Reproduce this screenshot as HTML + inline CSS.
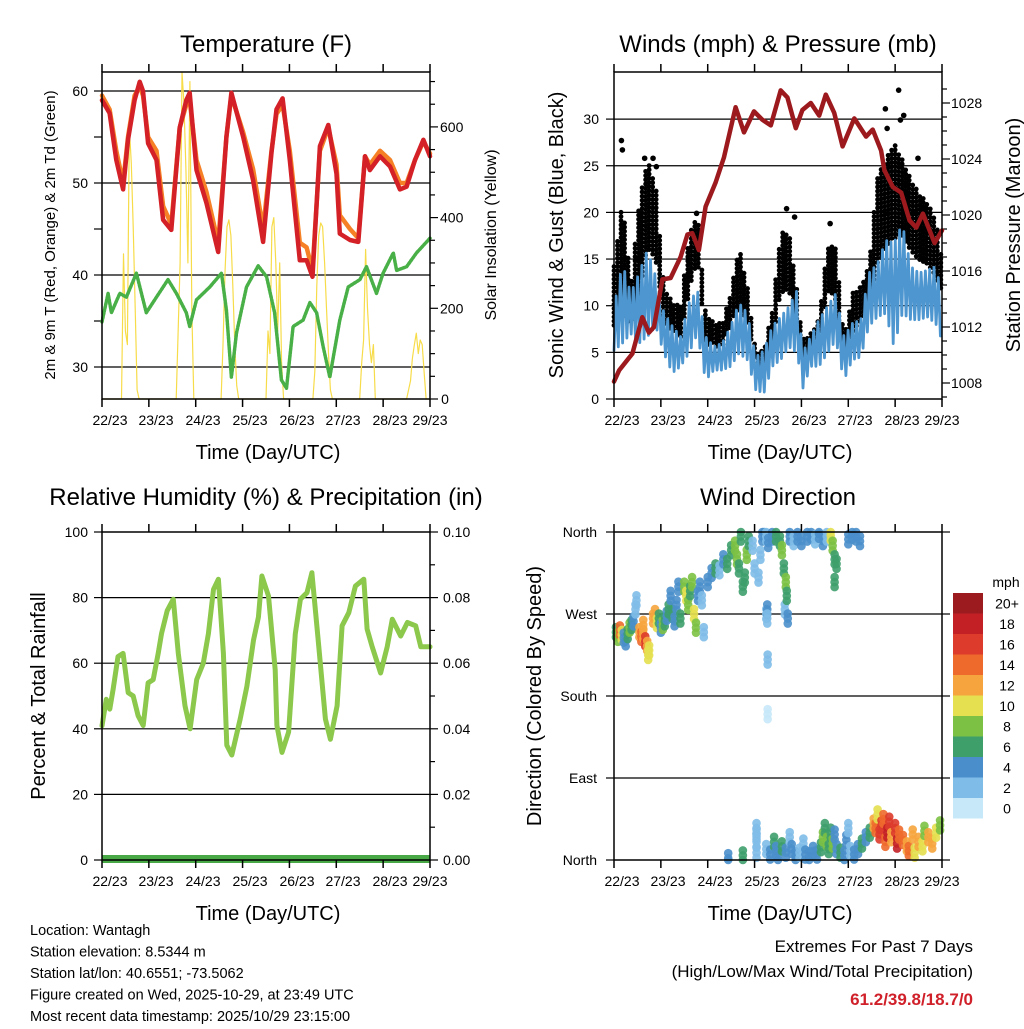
<!DOCTYPE html>
<html><head><meta charset="utf-8"><style>
body{margin:0;background:#fff;}
svg text{font-family:"Liberation Sans",sans-serif;fill:#000;}
</style></head><body>
<svg id="c" width="1024" height="1024" viewBox="0 0 1024 1024" xmlns="http://www.w3.org/2000/svg">
<rect width="1024" height="1024" fill="#fff"/>
</svg>
<script>
// ---------- DATA ----------
const xLabels = ["22/23","23/23","24/23","25/23","26/23","27/23","28/23","29/23"];
const xLabelPos = [110,156,203,250,297,343,390,430];
const tHours = [0,3.9,7.3,10.8,13.3,16.7,19.3,21,23.6,27.9,31.3,35.5,39.8,43.2,44.9,48.4,53.5,59.5,63.7,66.3,72.3,77.4,82.5,86.8,89.4,92.5,96.2,101.3,104.8,107.8,111.6,115.9,120.1,121.8,127,131.3,134.7,137.2,142.4,147.5,152.6,156,160.3,164.6,168];
const temp2m = [59,57.6,52.5,49.3,54.7,59,61,60,54.3,52.5,46,44.9,56,59,59.8,51.4,47.8,42.5,55,59.8,55,50.3,43.6,53.3,58,59.2,52.5,41.6,41.6,39.8,54,56.3,51,44.5,43.8,43.6,52.9,51.4,52.9,51.8,49.3,49.6,52.5,54.7,52.9];
const temp9m = [59.5,58,53.5,50,55,59.5,60.5,59.5,55,53.5,47.5,45.5,56,58.5,59,52.5,49,43.5,55,59.5,55.5,51.5,45,53.5,57.5,58.5,53.5,43.5,43,40.5,53.5,56,52,46.5,45,44,52.9,52,53.5,52.5,50,50,52.5,54.5,53.2];
const tdHours = [0,3.1,4.8,9.1,12.5,17.6,22.7,27.9,33.8,38.1,43.2,44.9,48.4,55.2,61.2,63.7,66.3,68.9,74,80,84.3,88.4,91.9,94.5,97.9,103,106.5,109.9,113.3,116.7,121.8,126.1,132.1,135.5,140.6,144,149.2,150.9,156,161.1,168];
const dewpoint = [34.9,38,35.9,38,37.6,40.2,35.9,37.6,39.5,38,35.9,34.4,37.3,38.7,40.2,36.2,28.9,33.7,38.7,41,39.8,35.9,28.6,27.7,34.4,35.1,37,35.9,32.2,28.9,35.1,38.7,39.5,40.9,38,40.2,42.4,40.5,40.9,42.4,44];
const solarHours = [0,10,11,12,13,14,15,16,17,18,19,20,21,22,38,40,41,42,43,44,45,46,47,61,62,63,64,65,66,67,68,69,70,84,85,86,87,88,89,90,91,92,93,108,109,110,111,112,113,114,115,116,117,118,132,133,134,135,136,137,138,139,140,156,158,159,160,161,162,163,164,165,166,168];
const solar = [0,0,320,150,120,600,520,380,200,20,0,0,0,0,0,300,721,650,500,300,700,200,0,0,120,280,380,395,360,250,120,30,0,0,150,100,380,400,300,150,300,80,0,0,60,250,360,388,380,300,200,100,20,0,0,80,130,330,200,120,80,120,0,0,40,90,120,145,100,130,120,60,0,0];
const pHours = [0,2.6,9.4,14.5,17.9,20.5,24.8,29,34.1,37.6,40.1,43.5,46.9,52,56.3,62.3,66.6,71.7,76,80.3,85.4,88.8,93.1,96.5,100.8,105.1,108.5,112.8,117.1,123.1,129.1,132.5,136.8,138.5,142.8,147.1,151.4,154.8,158.2,164.2,168];
const pressure = [1008.1,1008.9,1010.1,1012.7,1011.6,1012,1015.4,1015.5,1017,1018.6,1018.7,1017.5,1020.6,1022.3,1024.1,1027.7,1025.9,1027.4,1026.8,1026.4,1028.9,1028.4,1026.2,1027.5,1028,1027.1,1028.6,1027.3,1024.9,1026.9,1025.6,1026.1,1024.6,1023.2,1022,1021.6,1019.6,1019.1,1020.1,1018,1018.9];
const wHours = [0,4.4,8.6,12.9,17.1,21.4,25.6,29.9,34.1,38.4,42.7,46.9,51.2,55.5,59.8,64,68.3,72.6,76.8,81.1,85.4,89.6,93.9,96.5,100.8,105,109.3,113.6,117.8,122.1,126.4,130.6,134.9,139.2,143.4,147.7,152,156.2,160.5,164.8,168];
const sonicLo = [5.2,6,7,6,6.7,7.8,4.9,2.8,3.5,4.9,7,2,3.1,3.1,3.5,4.9,4.2,1,0.6,3.5,4.2,5.6,4.9,1,3.5,3.5,4.9,6.3,2,4.2,4.5,7.8,8.8,9.2,5.6,9.2,8.5,8.5,8.8,8.1,6.3];
const sonicHi = [9.9,14.5,11.3,13.5,16,13.1,9.2,7.8,6.7,10.3,11.7,6.7,5.6,6,7.8,10.3,9.2,4.5,5.2,7.8,8.8,9.9,11.7,4.9,6.7,8.5,9.9,11.3,6.7,8.1,8.5,13.5,14.5,17,16.7,18.8,14.2,13.5,13.8,14.2,11.3];
const gustLo = [7.8,9,7.8,11.3,16.3,14.9,8.1,7,6.3,11.3,14.9,6,5.6,5.6,7.8,9.9,8.1,3.5,3.1,6.3,11.3,11.3,7,4.2,4.9,5.6,11.3,10.6,4.9,7,8.1,9.9,14.2,16.3,17,17.4,15.6,14.9,14.2,13.1,11.3];
const gustHi = [14.2,21.3,12,21,25.6,22.8,12,10.3,9.9,17.4,19.9,9.2,8.1,8.1,11.3,16.3,12,4.9,5.2,9.5,17.8,17.8,11.3,6.3,7,8.5,16.3,16.3,6.3,11.3,12,14.2,23.8,25.6,27.4,25.6,23.5,22,21,19.2,14.9];
const gustOutHours = [3.8,4.3,15.7,20,21.7,42.3,88.4,92.5,110.7,139,145.8,146.7,148.4,139.9,155.7];
const gustOutVals = [27.7,26.7,25.8,25.8,24.9,19.9,20.4,19.5,18.8,31.1,33.1,29.9,30.4,29,25.8];
const rhHours = [0,2.2,4,5.7,8.2,10.8,13.4,16,18.5,21.1,23.6,26.2,28.8,30.5,33.4,36.5,39.1,42.5,45.1,48.5,51.9,54.5,57.1,59.6,62.2,63.9,66.5,70.8,74.2,77.6,80.1,81.9,85.3,88.7,89.6,92.2,95.6,99,101.6,105,107.5,110.9,114.4,117,120.4,123,126.4,129.8,134.1,135.8,138.4,142.7,146.1,148.7,153,156.4,160.7,163.3,168];
const rh = [40.9,49,46,52,62,63,51,50,44,41,54,55,63,69,76,79.5,63,47,40,55,60,69,82.5,85.6,63,35,32,43,53,67,74,86.6,80.5,58,41,32.8,39,69,79.5,81.5,87.6,66,43,36.8,47,71.4,75.4,83.5,85.6,70.4,65,57,65,73.4,68.3,72.4,71.4,65,65,73.4];
// Wind direction: hour / direction(deg) / speed(mph), in aligned chunks
const dirHoursA = [1,2,3,4,5,6,7,8,9,10,11,11.5,13,14,15,15,16,17,17.5,18,20,21,22,23,24,25,26];
const dirDegA   = [250,245,252,247,244,240,248,255,258,262,275,285,250,245,248,258,240,235,225,230,265,270,260,265,255,258,262];
const dirSpeedA = [7,8,14,10,5,4,7,9,6,4,3,3,12,14,13,12,16,12,10,11,12,12,10,6,5,8,6];
const dirHoursB = [27,28,29,30,31,32,33,34,36,37,38,39,40,41,42,43,44,45,46,48,50,52,54,56,58];
const dirDegB   = [268,275,290,270,262,280,300,265,300,290,280,295,305,270,255,290,300,285,250,305,315,320,318,330,325];
const dirSpeedB = [5,6,4,6,5,4,4,6,8,10,9,7,8,10,8,4,4,3,2,4,4,6,3,4,6];
const dirHoursC = [60,62,63,64,65,66,67,68,69,71,72,74,75,76,77,78,78,79,78.5,78.5,78.7,78.7,81,83,85,86,87,87.5,88,88.5,89,90,92,94,96];
const dirDegC   = [340,345,330,320,355,300,310,335,350,345,320,310,335,355,358,355,270,348,275,265,220,160,355,355,350,340,320,275,305,290,265,355,350,355,350];
const dirSpeedC = [7,8,9,6,7,6,7,8,7,2,2,3,3,4,4,3,3,4,4,3,3,1,5,7,6,8,6,3,8,6,4,4,3,4,4];
const dirHoursD = [99,101,103,105,107,109,111,112,113,113,114,120,122,124,126];
const dirDegD   = [355,357,352,358,350,355,356,345,330,305,325,352,357,355,350];
const dirSpeedD = [4,4,3,4,4,2,10,8,7,6,6,4,4,5,4];
const dirHoursE = [58.5,66,73,73,73,73,78,80,82,83,84,86,88,90,91,93,95,97,98];
const dirDegE   = [2,5,35,28,20,8,12,6,20,10,4,15,8,25,12,4,8,18,6];
const dirSpeedE = [4,6,2,2,2,2,2,4,6,4,5,7,4,3,4,4,3,3,4];
const dirHoursF = [100,102,104,106,107,108,109,110,111,112,113,114,116,118,119,120,121,123,125,127,129,131];
const dirDegF   = [4,10,6,14,25,35,20,12,30,18,28,12,8,5,22,35,10,6,12,18,25,30];
const dirSpeedF = [4,4,4,6,8,6,9,7,7,8,4,4,6,4,4,2,3,5,5,6,5,7];
const dirHoursG = [133,134,135,136,137,138,139,140,141,142,144,145,146,148,150,151,153,154,156,158,159,161,163,165,167];
const dirDegG   = [40,35,50,28,38,45,20,30,42,25,35,18,28,22,15,10,28,8,20,15,32,25,18,30,38];
const dirSpeedG = [12,14,10,17,16,15,14,18,16,12,16,18,15,14,12,15,12,11,13,10,9,12,13,10,9];
const cbLabels = ["20+","18","16","14","12","10","8","6","4","2","0"];
const cbColors = ["#9b1b1e","#c32026","#dd3b2b","#ee6a2c","#f6a53e","#e4e050","#7cc144","#3e9f6b","#4a8fcb","#7fbde8","#c6e8f8"];

// ---------- HELPERS ----------
const svg = document.getElementById('c');
const NS = 'http://www.w3.org/2000/svg';
function mk(tag, attrs, parent){const e=document.createElementNS(NS,tag);for(const k in attrs)e.setAttribute(k,attrs[k]);(parent||svg).appendChild(e);return e;}
function txt(s,x,y,size,anchor,parent,rot){const e=mk('text',{x:x,y:y,'font-size':size,'text-anchor':anchor||'middle'},parent);if(rot)e.setAttribute('transform','rotate('+rot+' '+x+' '+y+')');e.textContent=s;return e;}
function panelFrame(name){
  const g=mk('g',{});
  
  
  return g;
}
function xAxis(g,x0,x1,y0,y1){
  const ax=mk('g',{},g);
  
  
  for(let i=0;i<8;i++){
    const x=x0+(x1-x0)*i/7;
    mk('line',{x1:x,x2:x,y1:y1,y2:y1+8,stroke:'#000','stroke-width':1.5},ax);
    mk('line',{x1:x,x2:x,y1:y0,y2:y0-8,stroke:'#000','stroke-width':1.5},ax);
    const dx=xLabelPos[i]-102;
    const t=txt(xLabels[i],x0+dx,y1+26,14,'middle',ax);
    
    
  }
  const t=txt('Time (Day/UTC)',(x0+x1)/2+2,y1+60,20,'middle',ax);
  
  
}
function box(g,x0,y0,x1,y1){mk('rect',{x:x0,y:y0,width:x1-x0,height:y1-y0,fill:'none',stroke:'#000','stroke-width':1.5},g);}
function poly(g,pts,attrs){return mk('polyline',Object.assign({points:pts.map(p=>p[0].toFixed(1)+','+p[1].toFixed(1)).join(' '),fill:'none','stroke-linejoin':'round','stroke-linecap':'round'},attrs),g);}

// ---------- PANEL 1: TEMPERATURE ----------
(function(){
  const X0=102,X1=430,Y0=72,Y1=399;
  const g=panelFrame('temperature-panel');
  const xs=h=>X0+(X1-X0)*h/168;
  const ys=v=>91+(60-v)*9.2;
  const yr=v=>Y1-v*0.4535;
  const tt=txt('Temperature (F)',266,52,24,'middle',g);
  
  
  [60,50,40,30].forEach(v=>{mk('line',{x1:X0,x2:X1,y1:ys(v),y2:ys(v),stroke:'#000','stroke-width':1.2},g);});
  for(let v=30;v<=60;v+=5){mk('line',{x1:X0-8,x2:X0,y1:ys(v),y2:ys(v),stroke:'#000','stroke-width':1.2},g);}
  [60,50,40,30].forEach(v=>{const t=txt(String(v),88,ys(v)+5,14,'end',g);});
  for(let v=0;v<=700;v+=50){mk('line',{x1:X1,x2:X1+(v%200==0?8:5),y1:yr(v),y2:yr(v),stroke:'#000','stroke-width':1.2},g);}
  [600,400,200,0].forEach(v=>{const t=txt(String(v),v?440:445,yr(v)+5,14,v?'start':'middle',g);});
  const sl=poly(g,solarHours.map((h,i)=>[xs(h),yr(solar[i])]),{stroke:'#f7dc4a','stroke-width':1.2});
  
  
  const dl=poly(g,tdHours.map((h,i)=>[xs(h),ys(dewpoint[i])]),{stroke:'#48b046','stroke-width':3.5,'stroke-dasharray':'2 1.5'});
  
  
  const ol=poly(g,tHours.map((h,i)=>[xs(h),ys(temp9m[i])]),{stroke:'#f58025','stroke-width':4.5});
  
  
  const rl=poly(g,tHours.map((h,i)=>[xs(h),ys(temp2m[i])]),{stroke:'#d42027','stroke-width':4.5});
  
  
  box(g,X0,Y0,X1,Y1);
  xAxis(g,X0,X1,Y0,Y1);
  const l=txt('2m & 9m T (Red, Orange) & 2m Td (Green)',55,235,15,'middle',g,-90);
  
  
  const r=txt('Solar Insolation (Yellow)',496,235,16,'middle',g,-90);
  
  
})();

// ---------- PANEL 2: WINDS & PRESSURE ----------
(function(){
  const X0=614,X1=942,Y0=72,Y1=399;
  const g=panelFrame('winds-panel');
  const xs=h=>X0+(X1-X0)*h/168;
  const ys=v=>Y1-v*9.33;
  const yp=p=>383-(p-1008)*14;
  const tt=txt('Winds (mph) & Pressure (mb)',778,52,24,'middle',g);
  
  
  [5,10,15,20,25,30].forEach(v=>{mk('line',{x1:X0,x2:X1,y1:ys(v),y2:ys(v),stroke:'#000','stroke-width':1.2},g);});
  for(let v=0;v<=30;v+=5){mk('line',{x1:X0-8,x2:X0,y1:ys(v),y2:ys(v),stroke:'#000','stroke-width':1.2},g);const t=txt(String(v),599,ys(v)+5,14,'end',g);}
  for(let p=1007;p<=1029;p++){mk('line',{x1:X1,x2:X1+(p%4==0?8:5),y1:yp(p),y2:yp(p),stroke:'#000','stroke-width':1.2},g);}
  [1028,1024,1020,1016,1012,1008].forEach(p=>{const t=txt(String(p),951,yp(p)+5,14,'start',g);});
  const interp=(arr,h)=>{for(let i=0;i<wHours.length-1;i++){if(h<=wHours[i+1]){const f=(h-wHours[i])/(wHours[i+1]-wHours[i]);return arr[i]+f*(arr[i+1]-arr[i]);}}return arr[arr.length-1];};
  const gg=mk('g',{fill:'#000'},g);
  
  
  let k=0;
  for(let h=0;h<=168;h+=1.8){
    const lo=ys(interp(gustLo,h)),hi=ys(interp(gustHi,h));
    const off=(k%2)*2;k++;
    for(let y=hi+off;y<=lo;y+=4.2){mk('circle',{cx:xs(h),cy:y,r:2.4},gg);}
  }
  gustOutHours.forEach((h,i)=>{mk('circle',{cx:xs(h),cy:ys(gustOutVals[i]),r:2.8},gg);});
  const zz=[];let s=0;
  for(let h=0;h<=168;h+=1.1){zz.push([xs(h),ys(s%2?interp(sonicHi,h):interp(sonicLo,h))]);s++;}
  const b=poly(g,zz,{stroke:'#4e96d0','stroke-width':2.8});
  
  
  const pl=poly(g,pHours.map((h,i)=>[xs(h),yp(pressure[i])]),{stroke:'#9c1a1d','stroke-width':4.5});
  
  
  box(g,X0,Y0,X1,Y1);
  xAxis(g,X0,X1,Y0,Y1);
  const l=txt('Sonic Wind & Gust (Blue, Black)',563,235,20,'middle',g,-90);
  
  
  const r=txt('Station Pressure (Maroon)',1020,235,20,'middle',g,-90);
  
  
})();

// ---------- PANEL 3: RH ----------
(function(){
  const X0=102,X1=430,Y0=532,Y1=860;
  const g=panelFrame('humidity-panel');
  const xs=h=>X0+(X1-X0)*h/168;
  const ys=v=>Y1-v*3.28;
  const tt=txt('Relative Humidity (%) & Precipitation (in)',266,505,24,'middle',g);
  
  
  [20,40,60,80].forEach(v=>{mk('line',{x1:X0,x2:X1,y1:ys(v),y2:ys(v),stroke:'#000','stroke-width':1.2},g);});
  for(let v=0;v<=100;v+=20){mk('line',{x1:X0-8,x2:X0,y1:ys(v),y2:ys(v),stroke:'#000','stroke-width':1.2},g);const t=txt(String(v),88,ys(v)+5,14,'end',g);}
  for(let v=0;v<=100;v+=10){mk('line',{x1:X1,x2:X1+(v%20==0?8:5),y1:ys(v),y2:ys(v),stroke:'#000','stroke-width':1.2},g);}
  ['0.00','0.02','0.04','0.06','0.08','0.10'].forEach((s,i)=>{const t=txt(s,443,ys(i*20)+5,14,'start',g);});
  const rl=poly(g,rhHours.map((h,i)=>[xs(h),ys(rh[i])]),{stroke:'#8cc84b','stroke-width':5});
  
  
  const pr=mk('line',{x1:X0,x2:X1,y1:Y1-1,y2:Y1-1,stroke:'#48a846','stroke-width':8},g);
  
  
  box(g,X0,Y0,X1,Y1);
  xAxis(g,X0,X1,Y0,Y1);
  const l=txt('Percent & Total Rainfall',45,696,20,'middle',g,-90);
  
  
})();

// ---------- PANEL 4: WIND DIRECTION ----------
(function(){
  const X0=614,X1=942,Y0=532,Y1=860;
  const g=panelFrame('wind-direction-panel');
  const xs=h=>X0+(X1-X0)*h/168;
  const ys=d=>Y1-d*(Y1-Y0)/360;
  const tt=txt('Wind Direction',778,505,24,'middle',g);
  
  
  [90,180,270].forEach(d=>{mk('line',{x1:X0,x2:X1,y1:ys(d),y2:ys(d),stroke:'#000','stroke-width':1.2},g);});
  ['North','East','South','West','North'].forEach((s,i)=>{mk('line',{x1:X0-8,x2:X0,y1:ys(i*90),y2:ys(i*90),stroke:'#000','stroke-width':1.2},g);mk('line',{x1:X1,x2:X1+8,y1:ys(i*90),y2:ys(i*90),stroke:'#000','stroke-width':1.2},g);const t=txt(s,597,ys(i*90)+5,14,'end',g);});
  const pg=mk('g',{},g);
  
  
  const H=[].concat(dirHoursA,dirHoursB,dirHoursC,dirHoursD,dirHoursE,dirHoursF,dirHoursG);
  const D=[].concat(dirDegA,dirDegB,dirDegC,dirDegD,dirDegE,dirDegF,dirDegG);
  const S=[].concat(dirSpeedA,dirSpeedB,dirSpeedC,dirSpeedD,dirSpeedE,dirSpeedF,dirSpeedG);
  H.forEach((h,i)=>{
    const bin=Math.max(0,Math.min(10,Math.floor(S[i]/2)));
    const col=cbColors[10-bin];
    const x=xs(h),y=ys(D[i]);
    [-5,0,5].forEach(o=>{
      const yy=Math.min(Y1,Math.max(Y0,y+o));
      mk('circle',{cx:x,cy:yy,r:4.3,fill:col,'fill-opacity':0.9},pg);
    });
  });
  box(g,X0,Y0,X1,Y1);
  xAxis(g,X0,X1,Y0,Y1);
  const l=txt('Direction (Colored By Speed)',541,696,20,'middle',g,-90);
  
  
  const cb=mk('g',{},g);
  
  
  const bh=20.5;
  cbColors.forEach((c,i)=>{mk('rect',{x:953,y:593+i*bh,width:30,height:bh,fill:c},cb);const t=txt(cbLabels[i],1007,593+i*bh+bh/2+5,14,'middle',cb);});
  const m=txt('mph',1006,587,14,'middle',cb);
  
  
})();

// ---------- FOOTER ----------
(function(){
  const f=mk('g',{});
  
  
  const lines=['Location: Wantagh','Station elevation: 8.5344 m','Station lat/lon: 40.6551; -73.5062','Figure created on Wed, 2025-10-29, at 23:49 UTC','Most recent data timestamp: 2025/10/29 23:15:00'];
  lines.forEach((s,i)=>{txt(s,30,935+i*21.5,14.5,'start',f);});
  const e=mk('g',{});
  
  
  txt('Extremes For Past 7 Days',973,952,17,'end',e);
  txt('(High/Low/Max Wind/Total Precipitation)',973,977,17,'end',e);
  const v=txt('61.2/39.8/18.7/0',973,1005,17,'end',e);
  v.setAttribute('font-weight','bold');
  v.setAttribute('style','fill:#d0202a');
})();
</script>
</body></html>
